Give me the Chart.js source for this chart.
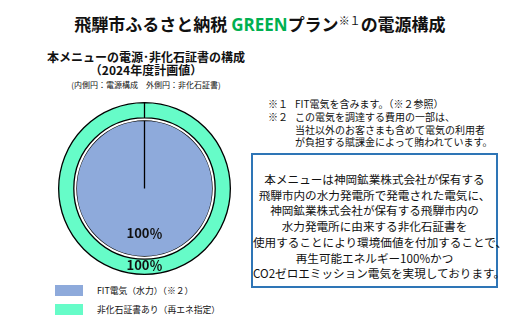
<!DOCTYPE html>
<html>
<head>
<meta charset="utf-8">
<script src="https://cdn.jsdelivr.net/npm/chart.js@4"></script>
<style>
    body { margin: 0; width: 520px; height: 323px; background: #fff; position: relative; overflow: hidden;
        font-family: "Noto Sans CJK JP", sans-serif; color: #111; }
    .abs { position: absolute; white-space: nowrap; }
    #title { left: 0; width: 520px; top: 8px; text-align: center; font-size: 17px; font-weight: bold; line-height: 24px; }
    #title .green { color: #00b050; font-family: "Open Sans", sans-serif; }
    #title sup { font-size: 11px; vertical-align: 6px; font-weight: normal; }
    #subtitle { left: 40px; width: 212px; top: 50px; text-align: center; font-weight: bold; font-size: 12px; line-height: 13px; }
    #subtitle .small { font-size: 8px; line-height: 10px; font-weight: normal; display: inline-block; }
    #notes { left: 268px; top: 98px; font-size: 10px; line-height: 12.8px; }
    #notes .mark { display: inline-block; width: 27px; }
    #infoBox { left: 251px; top: 153px; width: 247px; height: 135px; border: 2px solid #2e75b6;
        text-align: center; font-size: 11.6px; line-height: 15.7px; padding-top: 17px; box-sizing: border-box; white-space: nowrap; }
    #chartWrap { left: 58px; top: 102px; width: 173px; height: 173px; }
    #legend { left: 55px; top: 281px; list-style: none; margin: 0; padding: 0; font-size: 8.8px; }
    #legend li { display: flex; align-items: center; height: 19px; }
    .itemMaker { display: inline-block; width: 28px; height: 11px; margin-right: 14px; }
</style>
</head>
<body>
<div id="title" class="abs">飛騨市ふるさと納税 <span class="green">GREEN</span>プラン<sup>※１</sup>の電源構成</div>
<div id="subtitle" class="abs">本メニューの電源･非化石証書の構成<br>（2024年度計画値）<br><span class="small">(内側円：電源構成　外側円：非化石証書)</span></div>

<div id="notes" class="abs"><span class="mark">※１</span>FIT電気を含みます。（※２参照）<br><span class="mark">※２</span>この電気を調達する費用の一部は、<br><span class="mark"></span>当社以外のお客さまも含めて電気の利用者<br><span class="mark"></span>が負担する賦課金によって賄われています。</div>

<div id="infoBox" class="abs">本メニューは神岡鉱業株式会社が保有する<br>飛騨市内の水力発電所で発電された電気に、<br>神岡鉱業株式会社が保有する飛騨市内の<br>水力発電所に由来する非化石証書を<br>使用することにより環境価値を付加することで、<br>再生可能エネルギー100%かつ<br>CO2ゼロエミッション電気を実現しております。</div>

<div id="chartWrap" class="abs"><canvas id="myChart"></canvas></div>
<ul id="legend" class="abs"></ul>

<script>
// inner circle: power source mix
const sourceLabels = ['FIT電気（水力）（※２）'];
const sourceValues = [100];
// outer ring: non-fossil certificates
const certLabels = ['非化石証書あり（再エネ指定）'];
const certValues = [100];

const sourceColors = ['#8eaadb'];
const certColors = ['#66fcc8'];

const percentLabels = {
    id: 'percentLabels',
    afterDatasetsDraw(chart) {
        const ctx = chart.ctx;
        ctx.save();
        ctx.font = 'bold 13px "Noto Sans CJK JP", sans-serif';
        ctx.fillStyle = '#111';
        ctx.textAlign = 'center';
        ctx.textBaseline = 'middle';
        // ring label sits in the middle of the ring, pie label two thirds down
        const ring = chart.getDatasetMeta(0).data[0];
        const pie = chart.getDatasetMeta(2).data[0];
        ctx.fillText(certValues[0] + '％', ring.x, ring.y + (ring.innerRadius + ring.outerRadius) / 2 - 2);
        ctx.fillText(sourceValues[0] + '％', pie.x, pie.y + pie.outerRadius * 0.66);
        ctx.restore();
    }
};

const ctx = document.getElementById('myChart');
const myChart = new Chart(ctx, {
    type: 'doughnut',
    data: {
        labels: sourceLabels,
        datasets: [
            { label: 'cert', data: certValues, backgroundColor: certColors, borderColor: '#000', borderWidth: 1.3, weight: 15 },
            { label: 'gap', data: [100], backgroundColor: ['#fff'], borderWidth: 0, weight: 2.5 },
            { label: 'source', data: sourceValues, backgroundColor: sourceColors, borderColor: '#000', borderWidth: 1.3, weight: 67.5 }
        ]
    },
    options: {
        responsive: true,
        maintainAspectRatio: false,
        animation: false,
        cutout: 0,
        layout: { padding: 0 },
        plugins: {
            legend: { display: false },
            tooltip: { enabled: false }
        }
    },
    plugins: [percentLabels]
});

function generateCustomLegend() {
    const legendContainer = document.getElementById('legend');
    const items = [
        { text: sourceLabels[0], color: sourceColors[0] },
        { text: certLabels[0], color: certColors[0] }
    ];
    items.forEach(item => {
        const listItem = document.createElement('li');
        const bullet = document.createElement('span');
        bullet.className = 'itemMaker';
        bullet.style.backgroundColor = item.color;
        const itemText = document.createElement('span');
        itemText.textContent = item.text;
        listItem.appendChild(bullet);
        listItem.appendChild(itemText);
        legendContainer.appendChild(listItem);
    });
}
generateCustomLegend();
</script>
</body>
</html>
